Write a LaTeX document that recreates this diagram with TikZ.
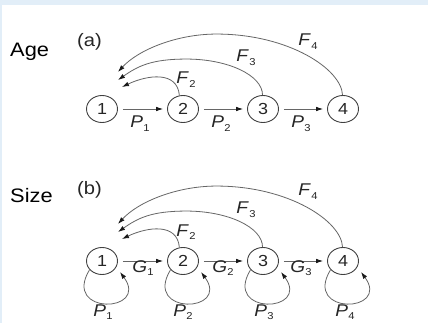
\documentclass[tikz,border=0pt]{standalone}
\usepackage{fontspec}
\setmainfont[FakeStretch=1.12]{Liberation Sans}
\usetikzlibrary{arrows.meta,calc,shapes.geometric}
\definecolor{bgblue}{HTML}{E2EEF8}
\newcommand\lbsub[2]{\textit{#1}\kern0.3pt\raisebox{-3.5pt}{\fontsize{10}{10}\selectfont #2}}
\tikzset{
  stnode/.style={ellipse,draw=black!75,line width=0.9pt,minimum width=31pt,minimum height=27pt,inner sep=0pt,font=\fontsize{16}{16}\selectfont,text=black!85},
  arr/.style={draw=black!60,line width=0.8pt,-{Latex[length=7pt,width=4.6pt,color=black!90]}},
  lbl/.style={anchor=base,font=\fontsize{17}{17}\selectfont,text=black!85,inner sep=0pt},
  title/.style={anchor=base west,font=\fontsize{19.5}{19.5}\selectfont,inner sep=0pt},
  tag/.style={anchor=base west,font=\fontsize{18}{18}\selectfont,text=black!85,inner sep=0pt}
}
\begin{document}
\begin{tikzpicture}[x=1pt,y=-1pt]
\fill[bgblue] (0,0) rectangle (428,323);
\fill[white] (2,5) rectangle (428,323);
\useasboundingbox (0,0) rectangle (428,323);

% ---------- panel (a) ----------
\node[title] (age) at (10,57) {Age};
\node[tag] (ta) at (77,47) {(a)};
\node[stnode] (a1) at (102,109) {1};
\node[stnode] (a2) at (183,109) {2};
\node[stnode] (a3) at (263,109) {3};
\node[stnode] (a4) at (343,109) {4};
\draw[arr,shorten <=5pt,shorten >=4pt] (a1) -- (a2);
\draw[arr,shorten <=5pt,shorten >=4pt] (a2) -- (a3);
\draw[arr,shorten <=5pt,shorten >=4pt] (a3) -- (a4);
\coordinate (ta4) at ($(a1)+(16,-37)$);
\coordinate (ta3) at ($(a1)+(16,-29)$);
\coordinate (ta2) at ($(a1)+(20,-22)$);
\draw[arr] (a4.92) .. controls +(-1,-26) and +(72,0) .. ++(-126,-61)
                   .. controls +(-40,0) and +(20,-22) .. (ta4);
\draw[arr] (a3.92) .. controls +(0,-20) and +(41,0) .. ++(-76,-36)
                   .. controls +(-35,0) and +(20,-14) .. (ta3);
\draw[arr] (a2.105) .. controls +(-2,-25) and +(25,-12) .. (ta2);
\node[lbl] (pa1) at (140,128) {\lbsub{P}{1}};
\node[lbl] (pa2) at (221,128) {\lbsub{P}{2}};
\node[lbl] (pa3) at (301,128) {\lbsub{P}{3}};
\node[lbl] (fa2) at (186,84) {\lbsub{F}{2}};
\node[lbl] (fa3) at (246,62) {\lbsub{F}{3}};
\node[lbl] (fa4) at (308,46) {\lbsub{F}{4}};

% ---------- panel (b) ----------
\begin{scope}[shift={(0,152)}]
\node[title] (size) at (10,51) {Size};
\node[tag] (tb) at (77,43) {(b)};
\node[stnode] (b1) at (102,109) {1};
\node[stnode] (b2) at (183,109) {2};
\node[stnode] (b3) at (263,109) {3};
\node[stnode] (b4) at (343,109) {4};
\draw[arr,shorten <=5pt,shorten >=4pt] (b1) -- (b2);
\draw[arr,shorten <=5pt,shorten >=4pt] (b2) -- (b3);
\draw[arr,shorten <=5pt,shorten >=4pt] (b3) -- (b4);
\coordinate (tb4) at ($(b1)+(16,-37)$);
\coordinate (tb3) at ($(b1)+(16,-29)$);
\coordinate (tb2) at ($(b1)+(20,-22)$);
\draw[arr] (b4.92) .. controls +(-1,-26) and +(72,0) .. ++(-126,-61)
                   .. controls +(-40,0) and +(20,-22) .. (tb4);
\draw[arr] (b3.92) .. controls +(0,-20) and +(41,0) .. ++(-76,-36)
                   .. controls +(-35,0) and +(20,-14) .. (tb3);
\draw[arr] (b2.105) .. controls +(-2,-25) and +(25,-12) .. (tb2);
\foreach \i in {1,2,3,4}{
  \coordinate (lb\i) at ($(b\i)+(18,11)$);
  \draw[arr] (b\i.215) .. controls +(-28,46) and +(30,41) .. (lb\i);
}
\node[lbl] (gb1) at (143,120) {\lbsub{G}{1}};
\node[lbl] (gb2) at (223,120) {\lbsub{G}{2}};
\node[lbl] (gb3) at (301,120) {\lbsub{G}{3}};
\node[lbl] (pb1) at (103,164) {\lbsub{P}{1}};
\node[lbl] (pb2) at (183,164) {\lbsub{P}{2}};
\node[lbl] (pb3) at (264,164) {\lbsub{P}{3}};
\node[lbl] (pb4) at (345,164) {\lbsub{P}{4}};
\node[lbl] (fb2) at (186,84) {\lbsub{F}{2}};
\node[lbl] (fb3) at (246,62) {\lbsub{F}{3}};
\node[lbl] (fb4) at (308,44) {\lbsub{F}{4}};
\end{scope}
\end{tikzpicture}
\end{document}
